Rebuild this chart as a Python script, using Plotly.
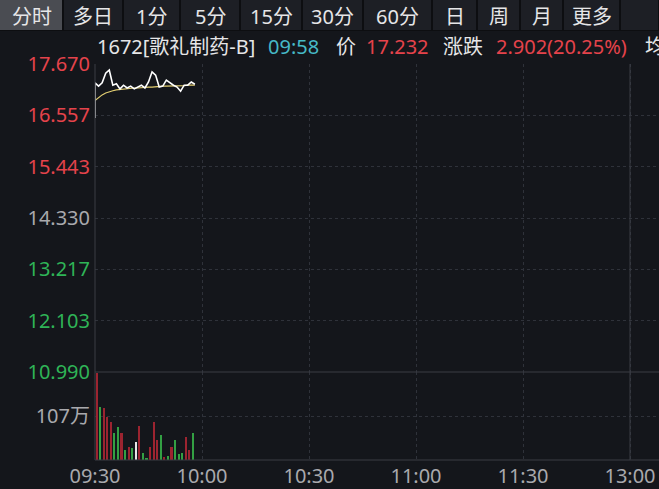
import plotly.graph_objects as go

# ---------------- data ----------------
price_min = [0, 0, 1, 2, 3, 4, 5, 6, 7, 8, 9, 10, 11, 12, 13, 14, 15, 16, 17, 18, 19,
             20, 21, 22, 23, 24, 25, 26, 27, 28]
prices = [16.50, 17.26, 17.19, 17.26, 17.47, 17.54, 17.21, 17.24, 17.13, 17.21, 17.15,
          17.19, 17.13, 17.17, 17.21, 17.15, 17.28, 17.50, 17.43, 17.17, 17.19, 17.32,
          17.26, 17.21, 17.17, 17.08, 17.21, 17.21, 17.28, 17.232]
avg_min = list(range(29))
avg_prices = [16.88, 16.95, 17.00, 17.04, 17.07, 17.09, 17.11, 17.12, 17.13, 17.14, 17.14,
              17.15, 17.15, 17.16, 17.16, 17.17, 17.17, 17.18, 17.18, 17.19, 17.19, 17.19,
              17.20, 17.20, 17.20, 17.20, 17.21, 17.21, 17.21]
vol_min = list(range(28))
volumes = [212, 130, 126, 105, 93, 65, 81, 65, 24, 31, 29, 45, 83, 17, 6, 31, 93, 49,
           61, 8, 10, 31, 49, 14, 16, 57, 24, 66]
vol_dir = ["u", "d", "u", "u", "u", "d", "d", "u", "d", "u", "d", "f", "u", "d", "d", "u",
           "u", "u", "d", "u", "d", "u", "d", "d", "d", "u", "u", "d"]

price_ticks = [10.990, 12.103, 13.217, 14.330, 15.443, 16.557, 17.670]
price_tick_text = ["10.990", "12.103", "13.217", "14.330", "15.443", "16.557", "17.670"]
prev_close = 14.330
vol_ticks = [107]
vol_tick_text = ["107万"]
time_ticks = [0, 30, 60, 90, 120, 150]
time_labels = ["09:30", "10:00", "10:30", "11:00", "11:30", "13:00"]
lunch_break = 150

tabs = ["分时", "多日", "1分", "5分", "15分", "30分", "60分", "日", "周", "月", "更多", ""]
tab_edges = [0, 63, 123, 180, 240, 302, 363, 432, 477, 520, 563, 620, 659]

# ---------------- styles ----------------
BG = "#14161b"
GRID = "#2f323a"
SOLID = "#3a3d45"
RED = "#e5434b"
GREEN = "#2fb457"
GRAY = "#a9a9ad"
WHITE = "#e6e6e8"
CYAN = "#46b9c6"
FONT = "Noto Sans, Noto Sans CJK SC, sans-serif"
FS = 20

W, H = 659, 489
L, R, T, B = 95, 0, 64, 29
PW, PH = W - L - R, H - T - B
split = (460 - 372) / PH


def px(x):
    return (x - L) / PW


def py(y):
    return (H - B - y) / PH


def tick_color(v):
    if abs(v - prev_close) < 1e-6:
        return GRAY
    return RED if v > prev_close else GREEN


ticktext = [f'<span style="color:{tick_color(v)}">{t}</span>' for v, t in zip(price_ticks, price_tick_text)]
bar_colors = [{"u": "#9c2430", "d": "#33a043", "f": "#e8e8e8"}[d] for d in vol_dir]

fig = go.Figure()
fig.add_trace(go.Scatter(x=avg_min, y=avg_prices, mode="lines",
                         line=dict(color="#e3cf72", width=1.2), xaxis="x", yaxis="y"))
fig.add_trace(go.Scatter(x=price_min, y=prices, mode="lines",
                         line=dict(color="#ffffff", width=1.6), xaxis="x", yaxis="y"))
fig.add_trace(go.Bar(x=vol_min, y=volumes, marker=dict(color=bar_colors, line=dict(width=0)),
                     width=0.45, offset=0.28, xaxis="x", yaxis="y2"))

x_end = PW / (107 / 30)

fig.update_layout(
    width=W, height=H,
    margin=dict(l=L, r=R, t=T, b=B, pad=0, autoexpand=False),
    paper_bgcolor=BG, plot_bgcolor=BG,
    showlegend=False,
    font=dict(family=FONT, size=FS, color=GRAY),
    xaxis=dict(range=[0, x_end], tickvals=time_ticks, ticktext=time_labels,
               showgrid=True, gridcolor=GRID, griddash="dot", gridwidth=1,
               zeroline=False, showline=False, ticks="", anchor="y2",
               ticklabelstandoff=2, automargin=False,
               tickfont=dict(size=FS, color=GRAY), fixedrange=True),
    yaxis=dict(domain=[split, 1], range=[price_ticks[0], price_ticks[-1]],
               tickvals=price_ticks, ticktext=ticktext, showgrid=True, gridcolor=GRID,
               griddash="dot", zeroline=False, showline=False, ticks="",
               ticklabelstandoff=4, automargin=False,
               tickfont=dict(size=FS), anchor="x"),
    yaxis2=dict(domain=[0, split], range=[0, 2 * vol_ticks[0]], tickvals=vol_ticks,
                ticktext=vol_tick_text, showgrid=True, gridcolor=GRID, griddash="dot",
                zeroline=False, showline=False, ticks="", ticklabelstandoff=4,
                automargin=False, tickfont=dict(size=FS, color=GRAY), anchor="x"),
    bargap=0,
)

shapes = []
# frame lines
shapes.append(dict(type="line", xref="paper", yref="paper", x0=0, x1=0, y0=0, y1=1,
                   line=dict(color=SOLID, width=1)))
shapes.append(dict(type="line", xref="paper", yref="paper", x0=0, x1=1, y0=split, y1=split,
                   line=dict(color=SOLID, width=1)))
shapes.append(dict(type="line", xref="paper", yref="paper", x0=0, x1=1, y0=0, y1=0,
                   line=dict(color=SOLID, width=1)))
shapes.append(dict(type="line", xref="x", yref="paper", x0=lunch_break, x1=lunch_break, y0=0, y1=1,
                   line=dict(color=SOLID, width=1)))
# tab bar
shapes.append(dict(type="rect", xref="paper", yref="paper", x0=px(0), x1=px(W), y0=py(31), y1=py(0),
                   fillcolor="#0d0e11", line=dict(width=0), layer="above"))
annotations = []
for i, name in enumerate(tabs):
    a, b = tab_edges[i], tab_edges[i + 1]
    fill = "#4a4c52" if i == 0 else "#1d1f25"
    shapes.append(dict(type="rect", xref="paper", yref="paper", x0=px(a + (1 if i else 0)),
                       x1=px(b - 1), y0=py(30), y1=py(0), fillcolor=fill,
                       line=dict(width=0), layer="above"))
    if name:
        annotations.append(dict(text=name, xref="paper", yref="paper", x=px((a + b) / 2), y=py(16),
                                xanchor="center", yanchor="middle", showarrow=False,
                                font=dict(family=FONT, size=20, color=WHITE)))

header = [("1672[歌礼制药-B]", 95, WHITE), ("09:58", 266, CYAN), ("价", 334, WHITE),
          ("17.232", 364, RED), ("涨跌", 441, WHITE), ("2.902(20.25%)", 494, RED),
          ("均", 643, WHITE)]
for text, x, c in header:
    annotations.append(dict(text=text, xref="paper", yref="paper", x=px(x), y=py(47),
                            xanchor="left", yanchor="middle", showarrow=False,
                            font=dict(family=FONT, size=20, color=c)))

fig.update_layout(shapes=shapes, annotations=annotations)
fig.write_html("out.html", config={"displayModeBar": False},
               post_script="document.body.style.margin='0';document.body.style.background='#14161b';")
